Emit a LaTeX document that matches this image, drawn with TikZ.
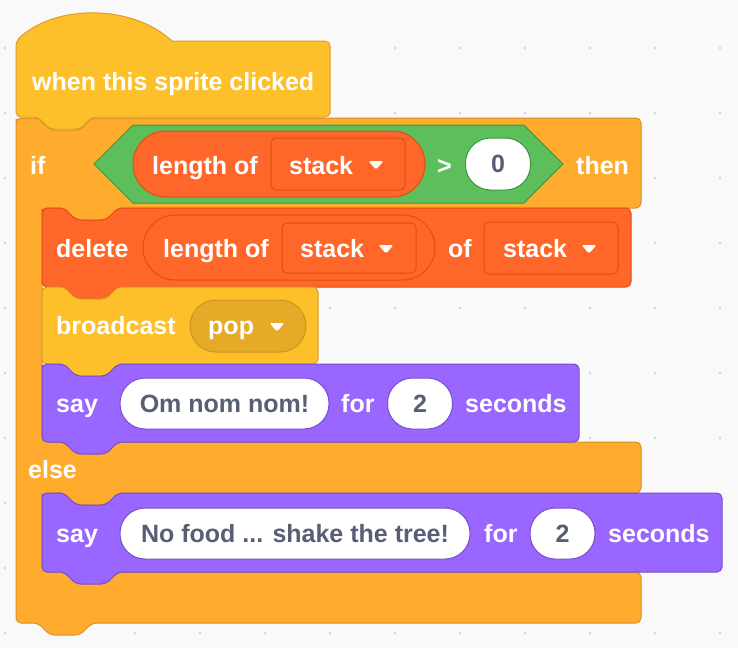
\documentclass[tikz,border=0pt]{standalone}
\usepackage{fontspec}
\setmainfont{Liberation Sans}
\definecolor{bgc}{HTML}{F9F9F9}
\definecolor{dotc}{HTML}{D3D3D3}
\definecolor{evF}{HTML}{FDBF2A}
\definecolor{evB}{HTML}{D9A02A}
\definecolor{evD}{HTML}{E6AA28}
\definecolor{evDB}{HTML}{C99520}
\definecolor{ctF}{HTML}{FFAB2E}
\definecolor{ctB}{HTML}{D98E22}
\definecolor{lkF}{HTML}{9966FF}
\definecolor{lkB}{HTML}{774DCB}
\definecolor{lsF}{HTML}{FF6629}
\definecolor{lsB}{HTML}{E04E12}
\definecolor{opF}{HTML}{5CBF5C}
\definecolor{opB}{HTML}{3D943D}
\definecolor{fldT}{HTML}{575E75}
\newcommand\stackblk[5]{%
  \draw[#5, rounded corners=5] (#1,{#2+6}) -- (#1,#2) -- ({#1+22},#2) -- ({#1+34},{#2+12})
   -- ({#1+64},{#2+12}) -- ({#1+76},#2) -- (#3,#2) -- (#3,#4) -- ({#1+76},#4)
   -- ({#1+64},{#4+12}) -- ({#1+34},{#4+12}) -- ({#1+22},#4) -- (#1,#4) -- cycle;}
\newcommand\ddarrow[2]{%
  \fill[white, rounded corners=1.5] ({#1-7.5},{#2-4}) -- ({#1+7.5},{#2-4}) -- (#1,{#2+4.5}) -- cycle;}
\tikzset{
  tf/.style={font=\fontsize{25}{30}\selectfont\bfseries},
  txt/.style={tf, anchor=base west, inner sep=0pt, text=white},
  wpill/.style={tf, shape=rectangle, fill=white, draw=#1, line width=1pt,
     rounded corners=25, text=fldT, inner sep=0pt, minimum height=51},
  evblk/.style={fill=evF, draw=evB, line width=1pt},
  ctblk/.style={fill=ctF, draw=ctB, line width=1pt},
  lkblk/.style={fill=lkF, draw=lkB, line width=1pt},
  lsblk/.style={fill=lsF, draw=lsB, line width=1pt},
  opblk/.style={fill=opF, draw=opB, line width=1pt},
}
\begin{document}
\begin{tikzpicture}[x=1pt,y=-1pt]
\useasboundingbox (0,0) rectangle (738,648);
\fill[bgc] (0,0) rectangle (738,648);
\foreach \gx in {5,70,...,720} \foreach \gy in {48,113,...,633} \fill[dotc] (\gx,\gy) circle (1.3);
% if-else C block
\draw[ctblk, rounded corners=5] (16,124) -- (16,118) -- (38,118) -- (50,130) -- (80,130) -- (92,118)
  -- (641,118) -- (641,208) -- (118,208) -- (106,220) -- (76,220) -- (64,208) -- (42,208)
  -- (42,442) -- (641,442) -- (641,493) -- (118,493) -- (106,505) -- (76,505) -- (64,493) -- (42,493)
  -- (42,572) -- (641,572) -- (641,623) -- (92,623) -- (80,635) -- (50,635) -- (38,623) -- (16,623) -- cycle;
% hat block
\draw[evblk] (16,41) .. controls (56,4) and (132,4) .. (172,41) [rounded corners=5] -- (330,41) -- (330,117)
  -- (92,117) -- (80,129) -- (50,129) -- (38,117) -- (16,117) -- cycle;
\node[txt] (hattxt) at (32,90) {when this sprite clicked};
% if row
\node[txt] (iftxt) at (30,174) {if};
\draw[opblk] (94,164) -- (133,125) -- (524,125) -- (563,164) -- (524,203) -- (133,203) -- cycle;
\draw[lsblk, rounded corners=32.9] (133,131) rectangle (425,197);
\node[txt] (lenA) at (152,174) {length of};
\draw[lsblk, rounded corners=5] (271,138) rectangle (405,190);
\node[txt] (stackA) at (289,174) {stack};
\ddarrow{376}{165}
\node[txt] (gt) at (437,174) {>};
\node[wpill=opB, minimum width=65, minimum height=52] (zero) at (498,164) {0};
\node[txt] (thentxt) at (576,174) {then};
% delete block
\stackblk{42}{208}{631}{287}{lsblk}
\node[txt] (deltxt) at (56,257) {delete};
\draw[lsblk, rounded corners=32.4] (143,215) rectangle (435,280);
\node[txt] (lenB) at (163,257) {length of};
\draw[lsblk, rounded corners=5] (282,223) rectangle (416,273);
\node[txt] (stackB) at (300,257) {stack};
\ddarrow{386}{249}
\node[txt] (oftxt) at (448,257) {of};
\draw[lsblk, rounded corners=5] (484,222) rectangle (618,274);
\node[txt] (stackC) at (503,257) {stack};
\ddarrow{589}{249}
% broadcast block
\stackblk{42}{287}{318}{364}{evblk}
\node[txt] (bctxt) at (56,334) {broadcast};
\draw[fill=evD, draw=evDB, line width=1pt, rounded corners=25.9] (190,300) rectangle (306,352);
\node[txt] (poptxt) at (208,334) {pop};
\ddarrow{277}{327}
% say block 1
\stackblk{42}{364}{579}{442}{lkblk}
\node[txt] (sayA) at (56,412) {say};
\node[wpill=lkB, minimum width=209] (omnom) at (224.5,403.5) {Om nom nom!};
\node[txt] (forA) at (341,412) {for};
\node[wpill=lkB, minimum width=65] (twoA) at (420,403.5) {2};
\node[txt] (secA) at (465,412) {seconds};
% else
\node[txt] (elsetxt) at (28,478) {else};
% say block 2
\stackblk{42}{493}{722}{572}{lkblk}
\node[txt] (sayB) at (56,542) {say};
\node[wpill=lkB, minimum width=350] (nofood) at (295,533.5) {No food ... shake the tree!};
\node[txt] (forB) at (484,542) {for};
\node[wpill=lkB, minimum width=65] (twoB) at (562.5,533.5) {2};
\node[txt] (secB) at (608,542) {seconds};
\end{tikzpicture}
\end{document}
